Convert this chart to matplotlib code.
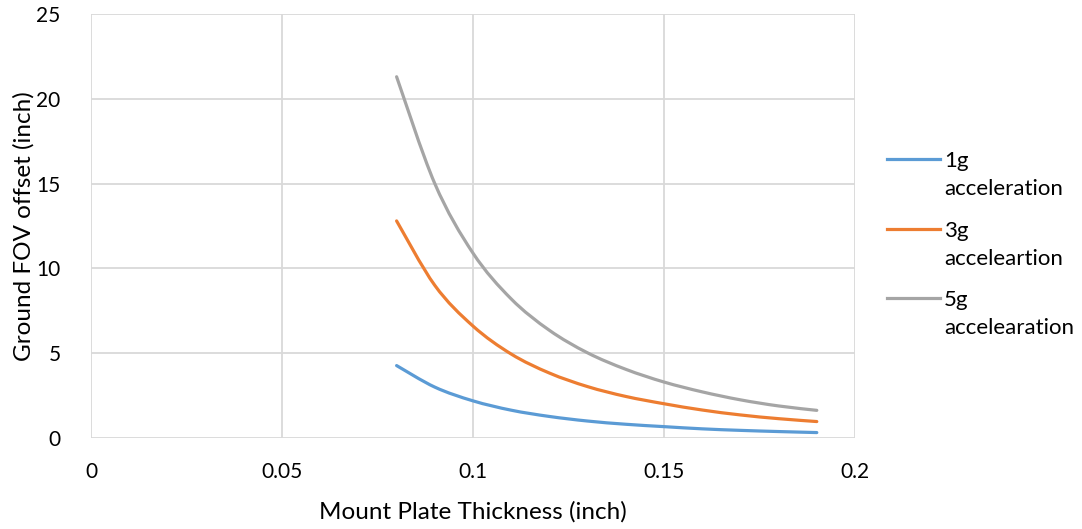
import matplotlib
matplotlib.use("Agg")
import matplotlib.pyplot as plt
from matplotlib.path import Path
from matplotlib.patches import PathPatch
from matplotlib.lines import Line2D
import numpy as np

# ---- data ----
thickness = [0.08, 0.09, 0.10, 0.11, 0.12, 0.13, 0.14, 0.15, 0.16, 0.17, 0.18, 0.19]
offset_1g = [4.27, 3.00, 2.19, 1.64, 1.27, 1.00, 0.81, 0.67, 0.54, 0.45, 0.38, 0.32]
offset_3g = [12.8, 9.0, 6.6, 4.95, 3.83, 3.03, 2.45, 2.02, 1.65, 1.36, 1.14, 0.97]
offset_5g = [21.3, 15.0, 10.9, 8.2, 6.35, 5.02, 4.05, 3.30, 2.72, 2.25, 1.89, 1.63]
series_names = ["1g\nacceleration", "3g\nacceleartion", "5g\naccelearation"]
colors = ["#5B9BD5", "#ED7D31", "#A5A5A5"]
x_ticks = [0, 0.05, 0.1, 0.15, 0.2]
x_tick_labels = ["0", "0.05", "0.1", "0.15", "0.2"]
y_ticks = [0, 5, 10, 15, 20, 25]

FONT = "Lato"
plt.rcParams["font.family"] = [FONT, "DejaVu Sans"]

fig = plt.figure(figsize=(10.82, 5.29), dpi=100)
W, H = 1082, 529
ax = fig.add_axes([91 / W, 1 - 438 / H, (855 - 91) / W, (438 - 14) / H])


def smooth_path(xs, ys):
    """Excel-style smoothed line: cubic Bezier segments through the data points."""
    xs = np.asarray(xs, float)
    ys = np.asarray(ys, float)
    n = len(xs)
    verts = [(xs[0], ys[0])]
    codes = [Path.MOVETO]
    for i in range(n - 1):
        i0 = max(i - 1, 0)
        i3 = min(i + 2, n - 1)
        c1 = (xs[i] + (xs[i + 1] - xs[i0]) / 6, ys[i] + (ys[i + 1] - ys[i0]) / 6)
        c2 = (xs[i + 1] - (xs[i3] - xs[i]) / 6, ys[i + 1] - (ys[i3] - ys[i]) / 6)
        verts += [c1, c2, (xs[i + 1], ys[i + 1])]
        codes += [Path.CURVE4] * 3
    return Path(verts, codes)


for ys, c in zip([offset_1g, offset_3g, offset_5g], colors):
    patch = PathPatch(smooth_path(thickness, ys), facecolor="none", edgecolor=c,
                      lw=2.3, capstyle="round", joinstyle="round",
                      transform=ax.transData, zorder=3)
    ax.add_patch(patch)

ax.set_xlim(0, 0.2)
ax.set_ylim(0, 25)
ax.set_xticks(x_ticks)
ax.set_xticklabels(x_tick_labels)
ax.set_yticks(y_ticks)
for s in ax.spines.values():
    s.set_visible(False)
ax.grid(True, color="#D9D9D9", lw=1.3)
ax.set_axisbelow(True)
ax.tick_params(length=0, labelsize=15, colors="#000000")
ax.tick_params(axis="y", pad=22)
ax.tick_params(axis="x", pad=17)

ax.set_xlabel("Mount Plate Thickness (inch)", fontsize=17.5, va="center")
ax.xaxis.set_label_coords(0.5, (438 - 512) / 424)
ax.set_ylabel("Ground FOV offset (inch)", fontsize=17.5, va="center")
ax.yaxis.set_label_coords((24 - 91) / 764, 0.5)

# legend (manual, Excel-like: handle aligned with first text line)
leg_y = [159, 229, 298]
for y, name, c in zip(leg_y, series_names, colors):
    fig.add_artist(Line2D([887 / W, 940 / W], [1 - y / H, 1 - y / H], color=c, lw=2.3,
                          transform=fig.transFigure))
    first, second = name.split("\n")
    fig.text(944 / W, 1 - (y + 2) / H, first, fontsize=16, va="center", ha="left")
    fig.text(944 / W, 1 - (y + 30) / H, second, fontsize=16, va="center", ha="left")

fig.savefig("out.png", dpi=100)
